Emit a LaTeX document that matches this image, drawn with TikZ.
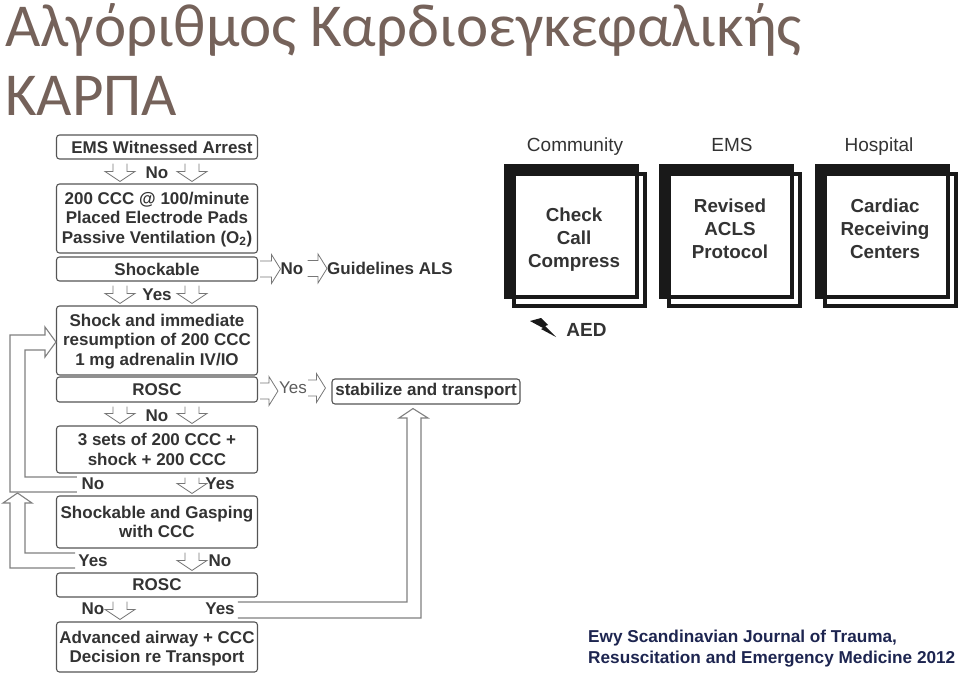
\documentclass[tikz,border=0pt]{standalone}
\usepackage{fontspec}
\setmainfont{Liberation Sans}
\newfontfamily\titlefont{Carlito}
\usepackage{xcolor}
\usetikzlibrary{calc}
\definecolor{titlebrown}{HTML}{75625A}
\definecolor{citeblue}{HTML}{1D2550}
\definecolor{inkgray}{HTML}{333333}
\definecolor{edgegray}{HTML}{555555}

\begin{document}
\begin{tikzpicture}[
    x=1pt, y=-1pt,
    box/.style = {
        rectangle, rounded corners=3pt, draw=edgegray, line width=1.1pt, fill=white,
        minimum width=201pt, align=center, inner sep=0pt, text=inkgray,
        font=\fontsize{17}{19.5}\selectfont\bfseries
    },
    tag/.style = {
        inner sep=0pt, text=inkgray, font=\fontsize{17}{19.5}\selectfont\bfseries
    },
    hollowdown/.style = {
        draw=edgegray!80, line width=0.8pt,
        to path={let \p1=(\tikztostart), \p2=(\tikztotarget) in
            (\x1-7pt,\y1-4pt) -- (\x1-7pt,\y2+12pt) -- (\x1-15pt,\y2+12pt) -- (\x1,\y2+2pt)
            -- (\x1+15pt,\y2+12pt) -- (\x1+7pt,\y2+12pt) -- (\x1+7pt,\y1-4pt)}
    },
    hollowright/.style = {
        draw=edgegray!80, line width=0.8pt,
        to path={let \p1=(\tikztostart), \p2=(\tikztotarget) in
            (\x1+2pt,\y1+8pt) -- (\x2-9pt,\y1+8pt) -- (\x2-9pt,\y1+14.5pt) -- (\x2,\y1)
            -- (\x2-9pt,\y1-14.5pt) -- (\x2-9pt,\y1-8pt) -- (\x1+2pt,\y1-8pt)}
    },
    rail/.style = {
        draw=gray, line width=1.1pt
    },
    panelback/.style = {
        rectangle, draw=black!90, line width=4pt, minimum width=131pt, minimum height=132pt
    },
    panelfront/.style = {
        rectangle, fill=black!90, minimum width=135pt, minimum height=135pt
    },
    panelface/.style = {
        rectangle, fill=white, minimum width=119pt, minimum height=119pt
    },
    paneltext/.style = {
        align=center, inner sep=0pt, text=inkgray, font=\fontsize{18.8}{23}\selectfont\bfseries
    },
    panelhead/.style = {
        inner sep=0pt, anchor=base, text=inkgray, font=\fontsize{19}{22}\selectfont
    }
]
\useasboundingbox (0,0) rectangle (960,675);

% Title
\node[inner sep=0pt, anchor=west, align=left, text=titlebrown,
      font=\fontsize{61}{69}\selectfont\titlefont] (title) at (5,60)
    {Αλγόριθμος Καρδιοεγκεφαλικής\\ΚΑΡΠΑ};

% Left column
\node[box, minimum height=24pt] (arrest)  at (157,147)   {\hspace*{10pt}EMS Witnessed Arrest};
\node[box, minimum height=69pt, text depth=2pt] (ccc)     at (157,218.5) {200 CCC @ 100/minute\\Placed Electrode Pads\\Passive Ventilation (O\textsubscript{2})};
\node[box, minimum height=24pt] (shockable) at (157,269) {Shockable};
\node[box, minimum height=69pt, text depth=2pt] (shock)   at (157,340.5) {Shock and immediate\\resumption of 200 CCC\\1 mg adrenalin IV/IO};
\node[box, minimum height=25pt] (rosca)   at (157,389.5) {ROSC};
\node[box, minimum height=47pt, text depth=-4pt] (sets)    at (157,449.5) {3 sets of 200 CCC +\\shock + 200 CCC};
\node[box, minimum height=52pt, text depth=-2pt] (gasping) at (157,522)   {Shockable and Gasping\\with CCC};
\node[box, minimum height=24pt] (roscb)   at (157,585)   {ROSC};
\node[box, minimum height=50pt, text depth=0pt] (airway)  at (157,647)   {Advanced airway + CCC\\Decision re Transport};

% Branch words
\node[tag] (noa)    at (157,172.5) {No};
\node[tag] (yesa)   at (157,294.5) {Yes};
\node[tag] (nob)    at (157,415.5) {No};
\node[tag] (noc)    at (93,484)  {No};
\node[tag] (yesb)   at (220,484) {Yes};
\node[tag] (yesc)   at (93,561)  {Yes};
\node[tag] (nod)    at (220,561) {No};
\node[tag] (noe)    at (93,609)  {No};
\node[tag] (yesd)   at (220,609) {Yes};

% Right of the column
\node[tag] (noside)  at (292,268.5) {No};
\node[tag, anchor=west] (als) at (327,268.5) {Guidelines ALS};
\node[inner sep=0pt, text=inkgray!80, font=\fontsize{17}{19.5}\selectfont] (yesside) at (293,388) {Yes};
\node[box, minimum width=188pt, minimum height=25pt] (transport) at (426,391.5) {stabilize and transport};

% Down arrows
\draw[hollowdown] ([xshift=-37pt]arrest.south) to ([xshift=-37pt]ccc.north);
\draw[hollowdown] ([xshift=35pt]arrest.south) to ([xshift=35pt]ccc.north);
\draw[hollowdown] ([xshift=-37pt]shockable.south) to ([xshift=-37pt]shock.north);
\draw[hollowdown] ([xshift=35pt]shockable.south) to ([xshift=35pt]shock.north);
\draw[hollowdown] ([xshift=-37pt]rosca.south) to ([xshift=-37pt]sets.north);
\draw[hollowdown] ([xshift=35pt]rosca.south) to ([xshift=35pt]sets.north);
\draw[hollowdown] ([xshift=35pt]sets.south) to ([xshift=35pt]gasping.north);
\draw[hollowdown] ([xshift=35pt]gasping.south) to ([xshift=35pt]roscb.north);
\draw[hollowdown] ([xshift=-37pt]roscb.south) to ([xshift=-37pt]airway.north);

% Side arrows
\draw[hollowright] (shockable.east) to (noside.west);
\draw[hollowright] ([xshift=2pt]noside.east) to (als.west);
\draw[hollowright] ([yshift=-1.5pt]rosca.east) to ([xshift=-1pt]yesside.west);
\draw[hollowright] ([xshift=-1pt]yesside.east) to ([xshift=-6pt]transport.west);

% Return rails
\draw[rail] ([xshift=-4.5pt,yshift=-8pt]noc.west) -- (10,492) -- (10,335) -- (45,335) -- (45,327)
    -- ([yshift=-1.5pt]shock.west) -- (45,357) -- (45,350) -- (25,350) -- (25,477)
    -- ([xshift=-4.5pt,yshift=7pt]noc.west);
\coordinate (railjoin) at (17.5,493);
\draw[rail] ([xshift=-3pt,yshift=-7pt]yesc.west) -- (10,568) -- (10,503) -- (3,503) -- (railjoin)
    -- (32,503) -- (25,503) -- (25,553) -- ([xshift=-3pt,yshift=8pt]yesc.west);
\draw[rail] ([xshift=3pt,yshift=7pt]yesd.east) -- (407,602) -- (407,418) -- (399,418)
    -- ([xshift=-13pt,yshift=-4pt]transport.south) -- (428,418) -- (421,418) -- (421,618)
    -- ([xshift=3pt,yshift=-9pt]yesd.east);

% Community panel
\node[panelhead] (community) at (575,151) {Community};
\node[panelback]  (commback)  at (579.5,240)   {};
\node[panelfront] (commfront) at (571.5,231.5) {};
\node[panelface]  (commface)  at (575.5,235.5) {};
\node[paneltext]  (commtext)  at (574,239.5)   {Check\\Call\\Compress};

% EMS panel
\node[panelhead] (ems) at (732,151) {EMS};
\node[panelback]  (emsback)  at (734.5,240)   {};
\node[panelfront] (emsfront) at (726.5,231.5) {};
\node[panelface]  (emsface)  at (730.5,235.5) {};
\node[paneltext]  (emstext)  at (730,229)     {Revised\\ACLS\\Protocol};

% Hospital panel
\node[panelhead] (hospital) at (879,151) {Hospital};
\node[panelback]  (hospback)  at (890.5,240)   {};
\node[panelfront] (hospfront) at (882.5,231.5) {};
\node[panelface]  (hospface)  at (886.5,235.5) {};
\node[paneltext]  (hosptext)  at (885,229)     {Cardiac\\Receiving\\Centers};

% Defibrillator mark
\fill[black!90] (530,321) -- (541,318) -- (548,325) -- (545,326) -- (556,337) -- (541,329) -- (543,328) -- cycle;
\node[inner sep=0pt, text=inkgray, font=\fontsize{19}{22}\selectfont\bfseries] (aed) at (586.5,330) {AED};

% Citation
\node[inner sep=0pt, anchor=west, align=left, text=citeblue,
      font=\fontsize{17.2}{21.5}\selectfont\bfseries] (cite) at (588,648.5)
    {Ewy Scandinavian Journal of Trauma,\\Resuscitation and Emergency Medicine 2012};

\end{tikzpicture}
\end{document}
